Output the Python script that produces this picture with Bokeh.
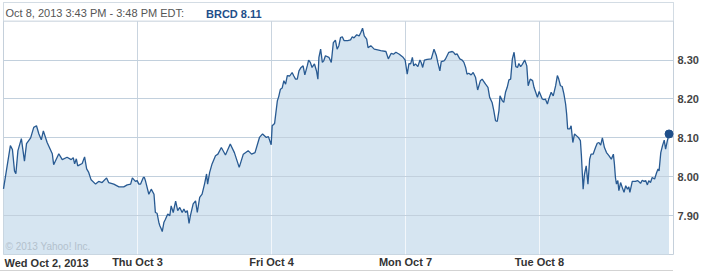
import numpy as np
from bokeh.plotting import figure
from bokeh.layouts import column
from bokeh.models import (FixedTicker, Range1d, Label, BoxAnnotation, Div, Title,
                          Span, Legend, LegendItem, NumeralTickFormatter)
from bokeh.embed import file_html
from bokeh.resources import INLINE

# ---------------- data ----------------
day_labels = ["Wed Oct 2, 2013", "Thu Oct 3", "Fri Oct 4", "Mon Oct 7", "Tue Oct 8"]
y_ticks = [7.90, 8.00, 8.10, 8.20, 8.30]
header_text = "Oct 8, 2013 3:43 PM - 3:48 PM EDT:"
series_name = "BRCD"
copyright_text = "\u00a9 2013 Yahoo! Inc."
SESSION_MIN = 390  # 9:30 - 16:00

# minutes after the 9:30 open, and price, for each trading day
wed_min = [0, 20, 26, 32, 36, 42, 52, 61, 67, 79, 88, 96, 103, 110, 116, 127, 142, 146, 161, 171,
           185, 197, 203, 207, 212, 216, 229, 236, 242, 248, 255, 268, 277, 287, 300, 306, 321, 336, 350, 360,
           370, 375, 384, 389]
wed_px = [7.969, 8.08, 8.07, 8.015, 8.008, 8.067, 8.098, 8.04, 8.085, 8.10, 8.127, 8.131, 8.11, 8.095, 8.118, 8.088, 8.059, 8.031, 8.059, 8.044,
          8.05, 8.044, 8.049, 8.033, 8.046, 8.028, 8.034, 8.051, 8.02, 8.011, 7.992, 7.981, 7.988, 7.985, 7.997, 7.985, 7.981, 7.974, 7.974, 7.979,
          7.981, 7.997, 7.988, 7.99]

thu_min = [4, 9, 17, 20, 23, 33, 40, 48, 52, 57, 62, 65, 69, 72, 77, 81, 88, 94, 98, 104,
           111, 117, 123, 130, 135, 140, 145, 150, 154, 162, 169, 174, 181, 188, 195, 201, 204, 210, 217, 227,
           234, 244, 256, 270, 282, 296, 308, 322, 332, 342, 355, 364, 375, 381, 389]
thu_px = [7.981, 7.981, 7.998, 7.998, 7.99, 7.955, 7.968, 7.955, 7.908, 7.906, 7.883, 7.874, 7.866, 7.859, 7.883, 7.89, 7.904, 7.90, 7.925, 7.908,
          7.937, 7.913, 7.921, 7.908, 7.917, 7.908, 7.913, 7.88, 7.90, 7.93, 7.938, 7.908, 7.947, 7.955, 7.981, 8.007, 7.981, 8.011, 8.033, 8.054,
          8.058, 8.075, 8.056, 8.084, 8.062, 8.024, 8.058, 8.067, 8.058, 8.062, 8.101, 8.11, 8.101, 8.103, 8.082]

fri_min = [2, 9, 17, 21, 26, 31, 36, 41, 46, 53, 60, 65, 70, 75, 80, 86, 92, 97, 104, 108,
           113, 118, 125, 131, 135, 138, 143, 148, 152, 157, 167, 174, 180, 186, 191, 196, 201, 206, 211, 222,
           230, 235, 240, 248, 255, 260, 265, 270, 277, 281, 289, 299, 309, 318, 333, 340, 348, 355, 362, 372,
           382, 389]
fri_px = [8.131, 8.137, 8.195, 8.206, 8.225, 8.228, 8.247, 8.238, 8.26, 8.259, 8.268, 8.259, 8.251, 8.251, 8.272, 8.281, 8.285, 8.262, 8.285, 8.30,
          8.294, 8.281, 8.29, 8.272, 8.251, 8.307, 8.328, 8.294, 8.298, 8.311, 8.307, 8.294, 8.345, 8.351, 8.328, 8.337, 8.358, 8.36, 8.35, 8.35,
          8.352, 8.36, 8.357, 8.365, 8.362, 8.371, 8.382, 8.362, 8.354, 8.332, 8.337, 8.328, 8.326, 8.324, 8.322, 8.303, 8.317, 8.315, 8.32, 8.315,
          8.308, 8.30]

mon_min = [5, 10, 15, 20, 24, 29, 36, 42, 46, 50, 55, 63, 75, 83, 90, 94, 100, 104, 112, 116,
           121, 126, 136, 140, 145, 150, 158, 165, 170, 175, 179, 184, 191, 197, 204, 210, 218, 223, 233, 240,
           245, 252, 257, 262, 267, 272, 275, 282, 286, 291, 296, 301, 306, 311, 316, 321, 326, 330, 335, 340,
           347, 353, 357, 363, 370, 374, 379, 384, 389]
mon_px = [8.264, 8.291, 8.29, 8.307, 8.285, 8.29, 8.283, 8.30, 8.293, 8.281, 8.30, 8.302, 8.303, 8.328, 8.311, 8.294, 8.272, 8.296, 8.298, 8.302,
          8.311, 8.32, 8.322, 8.32, 8.314, 8.316, 8.303, 8.30, 8.294, 8.281, 8.264, 8.266, 8.262, 8.268, 8.255, 8.223, 8.247, 8.251, 8.238, 8.23,
          8.204, 8.191, 8.17, 8.144, 8.142, 8.17, 8.208, 8.195, 8.191, 8.217, 8.23, 8.249, 8.251, 8.303, 8.32, 8.283, 8.281, 8.291, 8.283, 8.289,
          8.30, 8.285, 8.234, 8.251, 8.247, 8.23, 8.217, 8.204, 8.219]

tue_min = [8, 13, 17, 23, 27, 34, 40, 47, 52, 56, 61, 66, 71, 76, 79, 82, 88, 92, 97, 102,
           108, 114, 119, 122, 127, 131, 136, 141, 146, 150, 156, 163, 168, 173, 178, 183, 189, 195, 202, 209,
           215, 218, 221, 224, 228, 231, 236, 241, 246, 251, 256, 260, 263, 270, 279, 286, 294, 299, 304, 309,
           314, 318, 323, 328, 335, 341, 345, 348, 353, 358, 363, 367, 372, 377]
tue_px = [8.20, 8.198, 8.20, 8.187, 8.20, 8.217, 8.208, 8.234, 8.26, 8.251, 8.234, 8.232, 8.213, 8.187, 8.161, 8.123, 8.123, 8.131, 8.088, 8.11,
          8.105, 8.10, 8.093, 8.054, 7.968, 8.007, 8.028, 7.981, 8.045, 8.058, 8.058, 8.075, 8.086, 8.088, 8.081, 8.10, 8.075, 8.062, 8.054, 8.045,
          8.058, 8.033, 7.998, 7.981, 7.99, 7.964, 7.985, 7.972, 7.96, 7.977, 7.968, 7.974, 7.96, 7.988, 7.988, 7.99, 7.983, 7.991, 7.988, 7.99,
          7.979, 7.99, 7.985, 7.998, 7.994, 8.011, 8.02, 8.015, 8.062, 8.08, 8.094, 8.071, 8.092, 8.11]

days_min = [wed_min, thu_min, fri_min, mon_min, tue_min]
days_px = [wed_px, thu_px, fri_px, mon_px, tue_px]

# ---------------- build series ----------------
t = np.concatenate([i + np.array(m, dtype=float) / SESSION_MIN for i, m in enumerate(days_min)])
price = np.concatenate([np.array(v, dtype=float) for v in days_px])
Y_LO, Y_PLOT_HI, Y_TOP = 7.80, 8.40, 8.448

LINE = "#285a92"
FILL = "#d6e5f1"
GRID = "#c9d4df"
FONT = "Liberation Sans"

p = figure(width=703, height=270, x_range=Range1d(0, len(day_labels)),
           y_range=Range1d(Y_LO, Y_TOP), y_axis_location="right",
           output_backend="svg", toolbar_location=None,
           min_border_left=3, min_border_right=30, min_border_top=2, min_border_bottom=16)
p.background_fill_color = "white"
p.border_fill_color = "white"
p.outline_line_color = "#c5d0db"

# area + day boundaries
p.varea(x=t, y1=Y_LO, y2=price, fill_color=FILL)
bounds = list(range(1, len(day_labels)))
seg_top = [min(days_px[b - 1][-1], days_px[b][0]) for b in bounds]
p.segment(x0=bounds, y0=[Y_LO] * len(bounds), x1=bounds, y1=seg_top,
          line_color="#f3f7fb", line_width=1)

line_r = p.line(t, price, line_color=LINE, line_width=1.3)
line_r.level = "annotation"
dot_r = p.scatter([t[-1]], [price[-1]], size=8, color="#1f4f8a")
dot_r.level = "annotation"

# x axis: day names centred on the day boundaries
xt = FixedTicker(ticks=bounds)
xa = p.xaxis[0]
xa.ticker = xt
xa.major_label_overrides = {b: day_labels[b] for b in bounds}
xa.axis_line_color = None
xa.major_tick_line_color = None
xa.minor_tick_line_color = None
xa.major_tick_out = 0
xa.major_label_standoff = 1
xa.major_label_text_font = FONT
xa.major_label_text_font_size = "11px"
xa.major_label_text_font_style = "bold"
xa.major_label_text_color = "#333333"
# a blank axis label pulled back so the axis reserves no rows of its own
xa.axis_label = "\u00a0"
xa.axis_label_standoff = -31
xa.axis_label_text_font = FONT
xa.axis_label_text_font_size = "11px"

# first day name, left-aligned at the left edge of the plot
p.add_layout(Title(text=day_labels[0], align="left", offset=1, standoff=2,
                   vertical_align="middle", text_font=FONT, text_font_size="11px",
                   text_font_style="bold", text_color="#333333"), "below")

ya = p.yaxis[0]
ya.ticker = FixedTicker(ticks=y_ticks)
ya.formatter = NumeralTickFormatter(format="0.00")
ya.axis_line_color = None
ya.major_tick_line_color = None
ya.minor_tick_line_color = None
ya.major_tick_out = 0
ya.major_label_standoff = 4
ya.major_label_text_font = FONT
ya.major_label_text_font_size = "11px"
ya.major_label_text_font_style = "bold"
ya.major_label_text_color = "#444444"

p.xgrid.ticker = xt
p.xgrid.grid_line_color = GRID
p.ygrid.ticker = FixedTicker(ticks=y_ticks)
p.ygrid.grid_line_color = "#c2d0dd"
p.ygrid.level = "guide"

# header strip
p.add_layout(BoxAnnotation(bottom=Y_PLOT_HI, fill_color="white", fill_alpha=1.0,
                           line_color=None))
p.add_layout(Span(location=Y_PLOT_HI, dimension="width", line_color="#c5d0db", line_width=1))
p.add_layout(Label(x=0, y=(Y_PLOT_HI + Y_TOP) / 2, x_units="data", y_units="data", x_offset=2,
                   y_offset=-1, text=header_text, text_baseline="middle", text_font=FONT,
                   text_font_size="11px", text_color="#555555"))

swatch = p.quad(left=[], right=[], top=[], bottom=[], fill_color="#1f4f8a", line_color=None)
legend = Legend(items=[LegendItem(label=f"{series_name} {price[-1]:.2f}", renderers=[swatch])],
                location=(189, 234), orientation="horizontal",
                glyph_width=10, glyph_height=4, label_height=12, label_standoff=4,
                padding=0, margin=0, spacing=0,
                background_fill_alpha=0, border_line_color=None,
                label_text_font=FONT, label_text_font_size="11px",
                label_text_font_style="bold", label_text_color="#1f4f8a")
p.add_layout(legend, "center")

p.add_layout(Label(x=0, y=Y_LO, x_units="data", y_units="data", x_offset=2, y_offset=8,
                   text=copyright_text, text_baseline="middle", text_font=FONT,
                   text_font_size="10px", text_color="#b3c1cd"))

bottom_rule = Div(width=673, height=1, margin=0, styles={"background-color": "#d3d3d3"})
page = column(p, bottom_rule, spacing=0)

open("out.html", "w").write(file_html(page, INLINE))
